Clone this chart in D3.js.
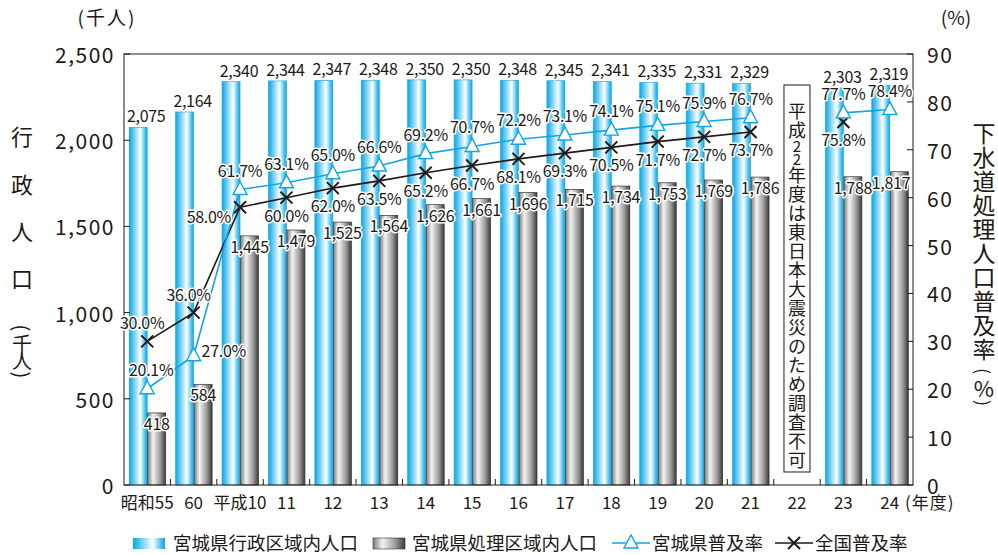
<!DOCTYPE html>
<html>
<head>
<meta charset="utf-8">
<script src="https://cdn.jsdelivr.net/npm/d3@7"></script>
<style>
  body { margin: 0; background: #fff; }
  svg { display: block; font-family: "Noto Sans CJK JP", "Noto Sans", sans-serif; }
</style>
</head>
<body>
<div id="chart"></div>
<script>
// 宮城県の下水道普及状況
const categories = ['昭和55', '60', '平成10', '11', '12', '13', '14', '15', '16', '17', '18', '19', '20', '21', '22', '23', '24'];
const gyoseiPop = [2075, 2164, 2340, 2344, 2347, 2348, 2350, 2350, 2348, 2345, 2341, 2335, 2331, 2329, null, 2303, 2319];
const shoriPop = [418, 584, 1445, 1479, 1525, 1564, 1626, 1661, 1696, 1715, 1734, 1753, 1769, 1786, null, 1788, 1817];
const miyagiRate = [20.1, 27.0, 61.7, 63.1, 65.0, 66.6, 69.2, 70.7, 72.2, 73.1, 74.1, 75.1, 75.9, 76.7, null, 77.7, 78.4];
const zenkokuRate = [30.0, 36.0, 58.0, 60.0, 62.0, 63.5, 65.2, 66.7, 68.1, 69.3, 70.5, 71.7, 72.7, 73.7, null, 75.8, null];
const leftTicks = [0, 500, 1000, 1500, 2000, 2500];
const rightTicks = [0, 10, 20, 30, 40, 50, 60, 70, 80, 90];
const noteText = '平成22年度は東日本大震災のため調査不可';

const W = 998, H = 555;
const L = 124, R = 913, T = 54, B = 485;
const ink = '#231815';
const cyan = '#12a5e2';

const svg = d3.select('#chart').append('svg')
  .attr('width', W).attr('height', H);

const defs = svg.append('defs');
const gBlue = defs.append('linearGradient').attr('id', 'gBlue');
[[0, '#0ea6e4'], [0.15, '#3fbdec'], [0.62, '#ffffff'], [0.86, '#56c6ef'], [1, '#0ea6e4']]
  .forEach(s => gBlue.append('stop').attr('offset', s[0]).attr('stop-color', s[1]));
const gGray = defs.append('linearGradient').attr('id', 'gGray');
[[0, '#7a7a7a'], [0.3, '#f4f4f4'], [0.7, '#9a9a9a'], [1, '#3a3a3a']]
  .forEach(s => gGray.append('stop').attr('offset', s[0]).attr('stop-color', s[1]));

const x = d3.scaleBand().domain(categories).range([L, R]);
const yL = d3.scaleLinear().domain([0, 2500]).range([B, T]);
const yR = d3.scaleLinear().domain([0, 90]).range([B, T]);
const cx = c => x(c) + x.bandwidth() / 2;
const bw = 18;

// 棒グラフ
const bars = svg.append('g');
bars.selectAll('rect.gyosei')
  .data(categories.map((c, i) => ({ c, v: gyoseiPop[i] })).filter(d => d.v != null))
  .join('rect')
  .attr('x', d => cx(d.c) - bw)
  .attr('y', d => yL(d.v))
  .attr('width', bw)
  .attr('height', d => B - yL(d.v))
  .attr('fill', 'url(#gBlue)')
  .attr('stroke', '#0ea6e4').attr('stroke-width', 0.6);
bars.selectAll('rect.shori')
  .data(categories.map((c, i) => ({ c, v: shoriPop[i] })).filter(d => d.v != null))
  .join('rect')
  .attr('x', d => cx(d.c) + 0.5)
  .attr('y', d => yL(d.v))
  .attr('width', bw)
  .attr('height', d => B - yL(d.v))
  .attr('fill', 'url(#gGray)')
  .attr('stroke', '#333').attr('stroke-width', 0.7);

// 注記ボックス（縦書き）
const noteX = cx('22');
svg.append('rect')
  .attr('x', noteX - 13).attr('y', 85)
  .attr('width', 26).attr('height', 387)
  .attr('fill', '#fff').attr('stroke', ink).attr('stroke-width', 1);
let ny = 110;
const chars = Array.from(noteText);
const isDigit = ch => /[0-9]/.test(ch);
chars.forEach((ch, i) => {
  svg.append('text')
    .attr('x', noteX).attr('y', ny)
    .attr('text-anchor', 'middle').attr('dominant-baseline', 'central')
    .attr('font-size', isDigit(ch) ? 15 : 18).attr('fill', ink)
    .text(ch);
  const next = chars[i + 1];
  if (next) ny += (isDigit(ch) ? 13 : 19) / 2 + (isDigit(next) ? 13 : 19) / 2;
});

// 枠と目盛
const frame = svg.append('g').attr('stroke', ink).attr('stroke-width', 1).attr('fill', 'none');
frame.append('rect').attr('x', L).attr('y', T).attr('width', R - L).attr('height', B - T);
leftTicks.forEach(t => frame.append('line').attr('x1', L).attr('x2', L + 6).attr('y1', yL(t)).attr('y2', yL(t)));
rightTicks.forEach(t => frame.append('line').attr('x1', R).attr('x2', R - 6).attr('y1', yR(t)).attr('y2', yR(t)));
categories.slice(1).forEach(c => frame.append('line').attr('x1', x(c)).attr('x2', x(c)).attr('y1', B).attr('y2', B - 6));

svg.append('g').selectAll('text').data(leftTicks).join('text')
  .attr('x', 115).attr('y', d => yL(d))
  .attr('text-anchor', 'end').attr('dominant-baseline', 'central')
  .attr('font-size', 21).attr('letter-spacing', 1.5).attr('fill', ink)
  .text(d => d3.format(',')(d));
svg.append('g').selectAll('text').data(rightTicks).join('text')
  .attr('x', 927).attr('y', d => yR(d))
  .attr('dominant-baseline', 'central')
  .attr('font-size', 21).attr('letter-spacing', 1.5).attr('fill', ink)
  .text(d => d);
svg.append('g').selectAll('text').data(categories).join('text')
  .attr('x', d => cx(d)).attr('y', 509)
  .attr('text-anchor', 'middle')
  .attr('font-size', 17).attr('fill', ink)
  .text(d => d);
svg.append('text').attr('x', 905).attr('y', 509)
  .attr('font-size', 17).attr('letter-spacing', 1).attr('fill', ink).text('(年度)');

// 軸タイトル
svg.append('text').attr('x', 107).attr('y', 25).attr('text-anchor', 'middle')
  .attr('font-size', 19).attr('letter-spacing', 2).attr('fill', ink).text('(千人)');
svg.append('text').attr('x', 956).attr('y', 25).attr('text-anchor', 'middle')
  .attr('font-size', 19).attr('fill', ink).text('(%)');

const vText = (list, xx) => list.forEach(d => {
  const t = svg.append('text')
    .attr('x', xx).attr('y', d[1])
    .attr('text-anchor', 'middle').attr('dominant-baseline', 'central')
    .attr('font-size', d[2]).attr('fill', ink).text(d[0]);
  if (d[0] === '(' || d[0] === ')') t.attr('transform', `rotate(90,${xx},${d[1]})`);
});
vText([['行', 135, 22], ['政', 183, 22], ['人', 230, 22], ['口', 277, 22],
  ['(', 328, 20], ['千', 343, 20], ['人', 360, 20], [')', 375, 20]], 22);
vText([['下', 132, 23], ['水', 156, 23], ['道', 180, 23], ['処', 204, 23], ['理', 228, 23],
  ['人', 252, 23], ['口', 276, 23], ['普', 300, 23], ['及', 324, 23], ['率', 348, 23],
  ['(', 371, 18], ['%', 387, 22], [')', 403, 18]], 984);

// 折れ線
const miyagiPts = categories.map((c, i) => ({ c, v: miyagiRate[i], i }));
const zenkokuPts = categories.map((c, i) => ({ c, v: zenkokuRate[i], i }));
const line = d3.line().defined(d => d.v != null).x(d => cx(d.c)).y(d => yR(d.v));
svg.append('path').datum(zenkokuPts).attr('d', line)
  .attr('fill', 'none').attr('stroke', ink).attr('stroke-width', 1.6);
svg.append('path').datum(miyagiPts).attr('d', line)
  .attr('fill', 'none').attr('stroke', cyan).attr('stroke-width', 1.6);

const xMark = (g, px, py, s) => {
  g.append('path').attr('d', `M${px - s},${py - s}L${px + s},${py + s}M${px - s},${py + s}L${px + s},${py - s}`)
    .attr('stroke', ink).attr('stroke-width', 2).attr('fill', 'none');
};
const triMark = (g, px, py) => {
  g.append('path').attr('d', `M${px},${py - 8}L${px + 7},${py + 5}L${px - 7},${py + 5}Z`)
    .attr('fill', '#fff').attr('stroke', cyan).attr('stroke-width', 1.4);
};
const marks = svg.append('g');
zenkokuPts.filter(d => d.v != null).forEach(d => xMark(marks, cx(d.c), yR(d.v), 6));
miyagiPts.filter(d => d.v != null).forEach(d => triMark(marks, cx(d.c), yR(d.v)));

// データラベル
const labels = svg.append('g')
  .attr('font-size', 16).attr('fill', ink)
  .attr('stroke', '#fff').attr('stroke-width', 3).attr('stroke-linejoin', 'round')
  .attr('paint-order', 'stroke');
const fmt = d3.format(',');
categories.forEach((c, i) => {
  if (gyoseiPop[i] != null) {
    labels.append('text').attr('x', cx(c) - 1).attr('y', yL(gyoseiPop[i]) - 5)
      .attr('text-anchor', 'middle').attr('letter-spacing', -0.3).text(fmt(gyoseiPop[i]));
  }
  if (shoriPop[i] != null) {
    const lx = Math.min(cx(c) + 9.5, R - 22);
    labels.append('text').attr('x', lx).attr('y', yL(shoriPop[i]) + 17)
      .attr('text-anchor', 'middle').attr('letter-spacing', -0.3).text(fmt(shoriPop[i]));
  }
  if (miyagiRate[i] != null) {
    const px = cx(c), py = yR(miyagiRate[i]);
    const t = labels.append('text').attr('letter-spacing', -0.3).text(miyagiRate[i].toFixed(1) + '%');
    if (i === 1) t.attr('x', px + 8).attr('y', py + 1);
    else t.attr('x', px + (i === 0 ? 4 : 0)).attr('y', py - 13).attr('text-anchor', 'middle');
  }
  if (zenkokuRate[i] != null) {
    const px = cx(c), py = yR(zenkokuRate[i]);
    const t = labels.append('text').attr('letter-spacing', -0.3).text(zenkokuRate[i].toFixed(1) + '%');
    if (i < 2) t.attr('x', px - 5).attr('y', py - 12).attr('text-anchor', 'middle');
    else if (i === 2) t.attr('x', px - 9).attr('y', py + 16).attr('text-anchor', 'end');
    else t.attr('x', px).attr('y', py + 24).attr('text-anchor', 'middle');
  }
});

// 凡例
const lg = svg.append('g');
lg.append('rect').attr('x', 133).attr('y', 538).attr('width', 32).attr('height', 11).attr('fill', 'url(#gBlue)');
lg.append('text').attr('x', 173).attr('y', 550).attr('font-size', 18.5).attr('fill', ink).text('宮城県行政区域内人口');
lg.append('rect').attr('x', 373).attr('y', 538).attr('width', 32).attr('height', 11)
  .attr('fill', 'url(#gGray)').attr('stroke', '#333').attr('stroke-width', 0.6);
lg.append('text').attr('x', 412).attr('y', 550).attr('font-size', 18.5).attr('fill', ink).text('宮城県処理区域内人口');
lg.append('line').attr('x1', 612).attr('x2', 650).attr('y1', 543).attr('y2', 543).attr('stroke', cyan).attr('stroke-width', 1.5);
triMark(lg, 631, 543);
lg.append('text').attr('x', 652).attr('y', 550).attr('font-size', 18.5).attr('fill', ink).text('宮城県普及率');
lg.append('line').attr('x1', 775).attr('x2', 813).attr('y1', 543).attr('y2', 543).attr('stroke', ink).attr('stroke-width', 1.5);
xMark(lg, 794, 543, 6);
lg.append('text').attr('x', 815).attr('y', 550).attr('font-size', 18.5).attr('fill', ink).text('全国普及率');
</script>
</body>
</html>
